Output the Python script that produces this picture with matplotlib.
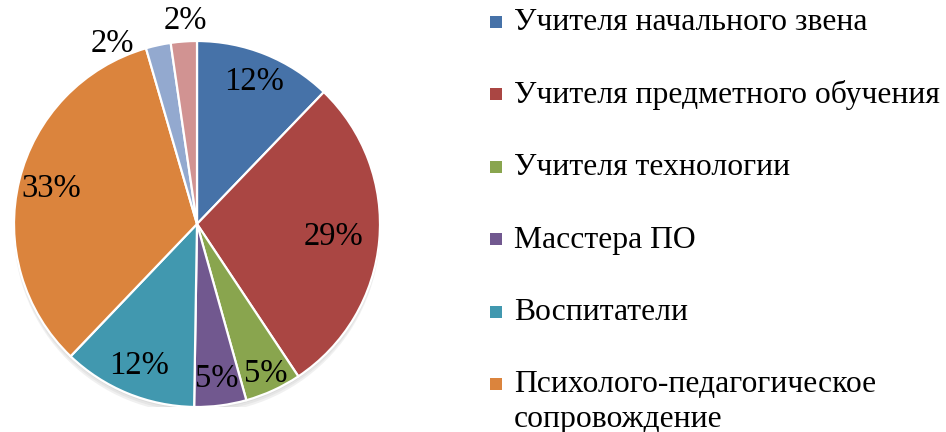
import numpy as np
import matplotlib
matplotlib.use("Agg")
import matplotlib.pyplot as plt
from matplotlib.patches import Circle, Rectangle

plt.rcParams["font.family"] = ["Liberation Serif", "DejaVu Serif"]

# slice shares (clockwise from 12 o'clock)
values = [12.2, 28.5, 5.0, 4.6, 11.9, 33.4, 2.2, 2.3]
pct_labels = ["12%", "29%", "5%", "5%", "12%", "33%", "2%", "2%"]
colors = ["#4672A8", "#AA4643", "#89A54E", "#71588F", "#4198AF",
          "#DB843D", "#93A9CF", "#D19392"]
# label placement: radius (fraction of R) and angular nudge (deg, clockwise)
label_r = [0.84, 0.75, 0.90, 0.85, 0.84, 0.82, 1.09, 1.115]
label_shift = [0, 0, 0, 0, 0, 0, -13, 1]
# legend entries visible in the picture
legend_names = ["Учителя начального звена",
                "Учителя предметного обучения",
                "Учителя технологии",
                "Масстера ПО",
                "Воспитатели",
                "Психолого-педагогическое\nсопровождение"]

W, H = 946, 432
fig = plt.figure(figsize=(W / 100, H / 100), dpi=100)
cx, cy, R = 197, 224, 183
ax = fig.add_axes([(cx - R) / W, (H - cy - R) / H, 2 * R / W, 2 * R / H])

# soft shadow under the pie
for k, a in enumerate([0.10, 0.10, 0.12]):
    ax.add_patch(Circle((0, -0.012 * (k + 1)), 1.0, color="#888888", alpha=a,
                        lw=0, zorder=0))

wedges, _ = ax.pie(values, colors=colors, startangle=90, counterclock=False,
                   radius=1.0, wedgeprops=dict(edgecolor="white", linewidth=1.6))
ax.set_xlim(-1, 1); ax.set_ylim(-1, 1); ax.set_aspect("equal"); ax.axis("off")

# percent labels at per-slice distances
total = float(sum(values))
cum = np.cumsum([0] + values[:-1])
for v, c0, lab, r, sh in zip(values, cum, pct_labels, label_r, label_shift):
    ang = np.deg2rad(90 - ((c0 + v / 2) / total * 360 + sh))
    ax.text(r * np.cos(ang), r * np.sin(ang), lab, ha="center", va="center",
            fontsize=23.5, color="black", clip_on=False)

# legend drawn by hand (marker aligned with first line of each entry)
y0, pitch, fs = 22, 72.4, 22.8
for i, (name, c) in enumerate(zip(legend_names, colors)):
    y = y0 + i * pitch
    fig.patches.append(Rectangle(((490) / W, 1 - (y + 6) / H), 12 / W, 12 / H,
                                 facecolor=c, edgecolor="none",
                                 transform=fig.transFigure))
    lines = name.split("\n")
    for j, ln in enumerate(lines):
        fig.text(514 / W, 1 - (y + 1 + j * 34) / H, ln, ha="left", va="center",
                 fontsize=fs, color="black")

fig.savefig("out.png", dpi=100)
